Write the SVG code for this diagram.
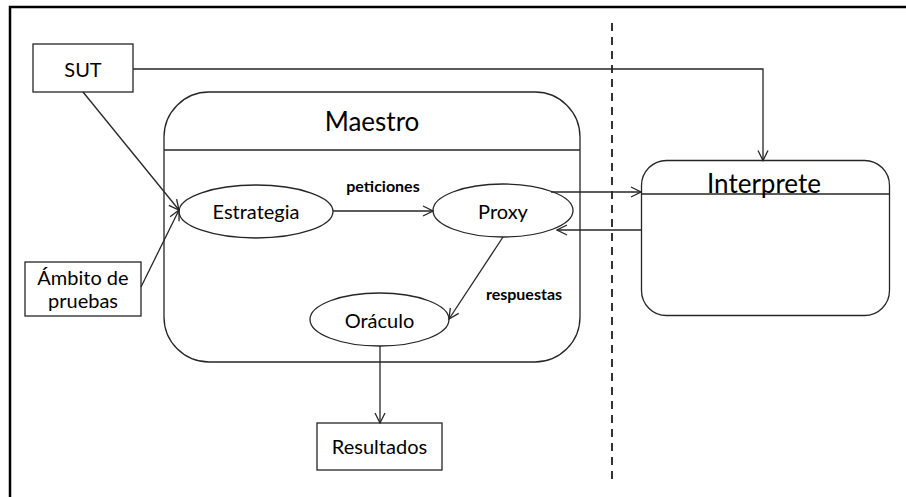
<svg xmlns="http://www.w3.org/2000/svg" width="906" height="497" viewBox="0 0 906 497">
  <style>
    .shape { fill: #ffffff; stroke: #262626; stroke-width: 1.3; }
    .edge { fill: none; stroke: #262626; stroke-width: 1.3; }
    .frame { fill: none; stroke: #000000; stroke-width: 2.5; }
    .lbl { font-family: Lato, "Liberation Sans", sans-serif; fill: #000000; text-anchor: middle; }
    .node { font-size: 20px; }
    .title { font-size: 26px; }
    .edge-lbl { font-size: 16px; font-weight: bold; }
  </style>
  <defs>
    <marker id="open-arrow" viewBox="0 0 12 12" refX="11" refY="6" markerWidth="12" markerHeight="12" markerUnits="userSpaceOnUse" orient="auto">
      <path d="M1,1 L11,6 L1,11" fill="none" stroke="#262626" stroke-width="1.3"/>
    </marker>
  </defs>

  <!-- page frame (top and left edges only) -->
  <path class="frame" d="M10,497 L10,7 L906,7"/>

  <!-- separator between local and remote sides -->
  <line x1="612" y1="23" x2="612" y2="482" stroke="#000" stroke-width="1.6" stroke-dasharray="8 6"/>

  <g id="maestro">
    <rect class="shape" x="164" y="92" width="416" height="270" rx="45" ry="45"/>
    <line class="edge" x1="164" y1="150" x2="580" y2="150"/>
    <text class="lbl title" x="372" y="131">Maestro</text>
  </g>

  <g id="interprete">
    <rect class="shape" x="641.5" y="160.5" width="248" height="155" rx="25" ry="25"/>
    <line class="edge" x1="641.5" y1="194" x2="889.5" y2="194"/>
    <text class="lbl title" x="764" y="193">Interprete</text>
  </g>

  <g id="sut">
    <rect class="shape" x="33" y="44" width="100" height="48"/>
    <text class="lbl node" x="83" y="77">SUT</text>
  </g>

  <g id="ambito">
    <rect class="shape" x="25" y="262" width="116" height="54"/>
    <text class="lbl node" x="83" y="285">Ámbito de</text>
    <text class="lbl node" x="83" y="308">pruebas</text>
  </g>

  <g id="estrategia">
    <ellipse class="shape" cx="256" cy="211.5" rx="77" ry="26.5"/>
    <text class="lbl node" x="256" y="218.5">Estrategia</text>
  </g>

  <g id="proxy">
    <ellipse class="shape" cx="503" cy="210.5" rx="70" ry="26.5"/>
    <text class="lbl node" x="503" y="218.5">Proxy</text>
  </g>

  <g id="oraculo">
    <ellipse class="shape" cx="379.5" cy="319.5" rx="69.5" ry="26.5"/>
    <text class="lbl node" x="379.5" y="327.5">Oráculo</text>
  </g>

  <g id="resultados">
    <rect class="shape" x="317" y="423" width="125" height="47"/>
    <text class="lbl node" x="379.5" y="454">Resultados</text>
  </g>

  <g id="connectors">
    <polyline class="edge" points="133,69 763,69 763,160.5" marker-end="url(#open-arrow)"/>
    <line class="edge" x1="83" y1="92" x2="179" y2="210" marker-end="url(#open-arrow)"/>
    <line class="edge" x1="141" y1="287" x2="179" y2="210" marker-end="url(#open-arrow)"/>
    <line class="edge" x1="333" y1="211" x2="433" y2="211" marker-end="url(#open-arrow)"/>
    <line class="edge" x1="551" y1="192" x2="641" y2="192" marker-end="url(#open-arrow)"/>
    <line class="edge" x1="641.5" y1="230" x2="557" y2="230" marker-end="url(#open-arrow)"/>
    <line class="edge" x1="503" y1="237" x2="449" y2="319" marker-end="url(#open-arrow)"/>
    <line class="edge" x1="380" y1="346" x2="380" y2="423" marker-end="url(#open-arrow)"/>
    <text class="lbl edge-lbl" x="383" y="192">peticiones</text>
    <text class="lbl edge-lbl" x="524" y="300">respuestas</text>
  </g>
</svg>
